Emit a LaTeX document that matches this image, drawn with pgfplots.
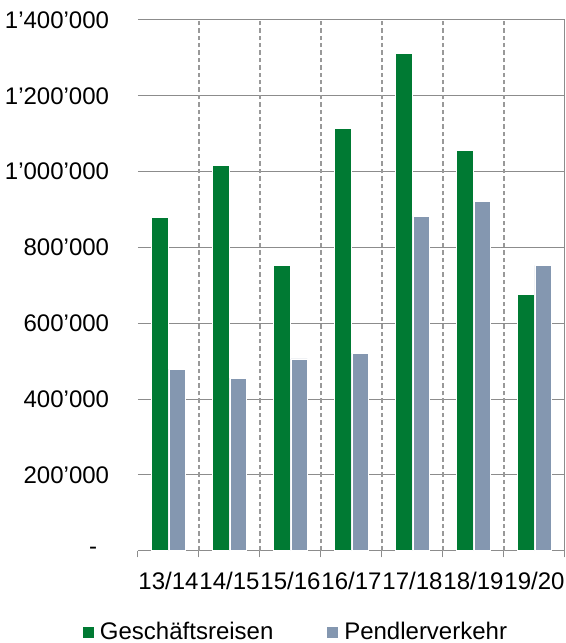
\documentclass[border=0pt]{standalone}
\usepackage{fontspec}
\setmainfont{Liberation Sans}
\usepackage{pgfplots}
\pgfplotsset{compat=1.18}
\definecolor{cgreen}{HTML}{007A33}
\definecolor{cblue}{HTML}{8497B0}
\definecolor{gridc}{HTML}{8C8C8C}
\definecolor{dashc}{HTML}{999999}
\pgfplotsset{sqleg/.style={legend image code/.code={\fill[##1] (0pt,-3pt) rectangle (6pt,3pt);}}}
\begin{document}
\begin{tikzpicture}
\begin{axis}[
 at={(0,0)}, anchor=south west,
 scale only axis, width=213.5pt, height=265.35pt,
 xmin=-0.5, xmax=6.5, ymin=0, ymax=1400000,
 axis x line*=bottom, axis y line*=left,
 x axis line style={draw=gridc, line width=0.5pt, -},
 y axis line style={draw=none, -},
 ybar=0.5pt, bar width=8.25pt,
 xtick={0,...,6},
 xticklabels={13/14,14/15,15/16,16/17,17/18,18/19,19/20},
 major x tick style={draw=none},
 minor xtick={-0.5,0.5,...,6.5},
 minor x tick style={draw=gridc, line width=0.5pt},
 minor tick length=3.35pt, tick align=outside,
 extra x ticks={0.5,1.5,...,5.5},
 extra x tick labels={},
 extra x tick style={xmajorgrids=true, ymajorgrids=false, major tick length=0pt,
   major grid style={dashc, line width=0.55pt, dash pattern=on 2.2pt off 1.5pt}},
 ytick={0,200000,...,1400000},
 yticklabels={-\hspace*{6pt},200’000,400’000,600’000,800’000,1’000’000,1’200’000,1’400’000},
 scaled y ticks=false,
 major y tick style={draw=none},
 ymajorgrids=true,
 major grid style={gridc, line width=0.5pt},
 yticklabel style={font=\fontsize{12}{14}\selectfont, anchor=east, inner sep=0pt, xshift=-10pt},
 xticklabel style={font=\fontsize{12}{14}\selectfont, anchor=north, inner sep=0pt, yshift=-6pt},
 legend style={font=\fontsize{12}{14}\selectfont, draw=none, fill=none,
   at={(axis description cs:-0.1319,-0.1541)}, anchor=west, inner sep=0pt,
   nodes={inner sep=0pt},
   /tikz/every odd column/.append style={column sep=2.65pt},
   /tikz/every even column/.append style={column sep=26.5pt}},
 legend columns=2,
]
\addplot[fill=cgreen, draw=white, line width=0.3pt, sqleg] coordinates {
 (0,880000) (1,1017000) (2,752000) (3,1115000) (4,1311000) (5,1056000) (6,677000)};
\addplot[fill=cblue, draw=white, line width=0.3pt, sqleg] coordinates {
 (0,479000) (1,455000) (2,506000) (3,521000) (4,882000) (5,921000) (6,753000)};
\legend{Geschäftsreisen,Pendlerverkehr}
\draw[gridc, line width=0.5pt] (axis cs:6.5,0) -- (axis cs:6.5,1400000);
\end{axis}
\pgfresetboundingbox
\path (-69pt,-46.15pt) rectangle (214pt,275.35pt);
\end{tikzpicture}
\end{document}
